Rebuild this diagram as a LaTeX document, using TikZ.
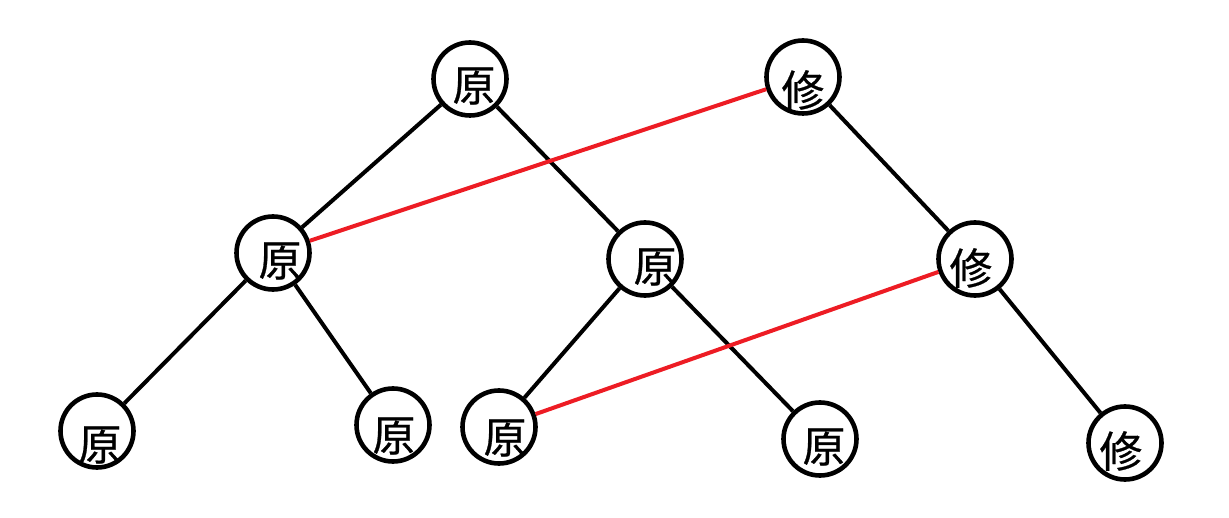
\documentclass[tikz,border=0pt]{standalone}
\usepackage{fontspec}
\newfontfamily\cjk{Noto Sans CJK SC}[FakeBold=0.6]
\begin{document}
\begin{tikzpicture}[x=1pt,y=-1pt,
  vert/.style={circle,draw=black,line width=4.6pt,minimum size=73pt,inner sep=0pt,fill=white},
  lbl/.style={inner sep=0pt,font=\cjk\fontsize{43}{43}\selectfont},
  edge/.style={draw=black,line width=4pt},
  link/.style={draw=linkred,line width=4pt}]
\definecolor{linkred}{RGB}{237,28,36}
\useasboundingbox (0,0) rectangle (1229,518);
% circles
\node[vert] (a) at (470,79) {};
\node[vert] (b) at (803,77) {};
\node[vert] (c) at (273,253) {};
\node[vert] (d) at (645,259) {};
\node[vert] (e) at (975,259) {};
\node[vert] (f) at (97,431) {};
\node[vert] (g) at (393,425) {};
\node[vert] (h) at (499,427) {};
\node[vert] (i) at (820,439) {};
\node[vert] (j) at (1125,443) {};
% edges
\path[edge] (a) -- (c);
\path[edge] (a) -- (d);
\path[edge] (b) -- (e);
\path[edge] (c) -- (f);
\path[edge] (c) -- (g);
\path[edge] (d) -- (h);
\path[edge] (d) -- (i);
\path[edge] (e) -- (j);
\path[link] (c) -- (b);
\path[link] (h) -- (e);
% labels
\node[lbl] (ta) at (474,86) {原};
\node[lbl] (tb) at (803,90) {修};
\node[lbl] (tc) at (280,261) {原};
\node[lbl] (td) at (655,267) {原};
\node[lbl] (te) at (971,268) {修};
\node[lbl] (tf) at (100,445) {原};
\node[lbl] (tg) at (394,436) {原};
\node[lbl] (th) at (505,438) {原};
\node[lbl] (ti) at (824,447) {原};
\node[lbl] (tj) at (1121,451) {修};
\end{tikzpicture}
\end{document}
